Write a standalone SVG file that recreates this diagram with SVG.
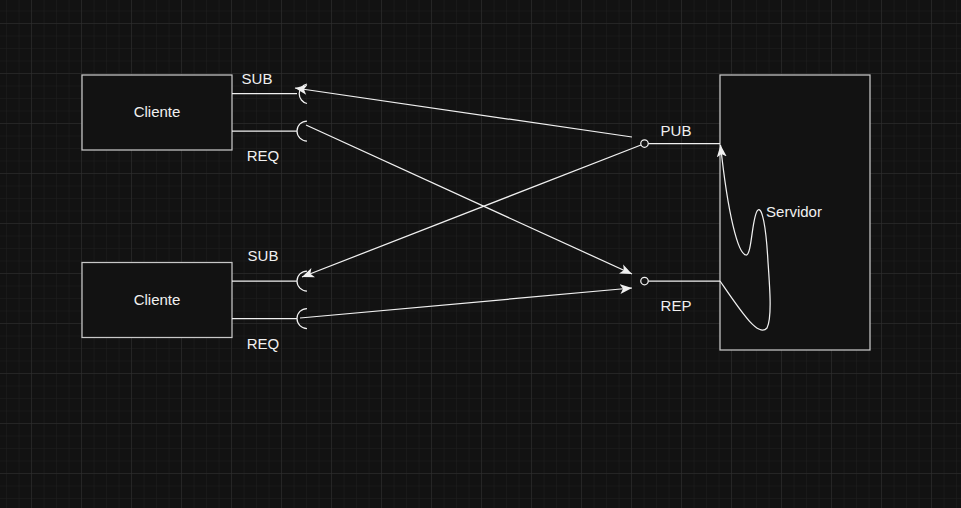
<svg xmlns="http://www.w3.org/2000/svg" width="961" height="508" viewBox="0 0 961 508">
<defs>
<pattern id="minor" width="12.5" height="12.5" patternUnits="userSpaceOnUse" x="7" y="-1">
<path d="M12.5 0V12.5M0 12.5H12.5" fill="none" stroke="#1f1f1f" stroke-width="1"/>
</pattern>
<pattern id="major" width="50" height="50" patternUnits="userSpaceOnUse" x="-18" y="-26">
<path d="M50 0V50M0 50H50" fill="none" stroke="#303030" stroke-width="1"/>
</pattern>
<marker id="arr" markerWidth="14" markerHeight="12" refX="12" refY="5" orient="auto" markerUnits="userSpaceOnUse" viewBox="0 0 14 10">
<path d="M0,0 L12,5 L0,10 L3,5 Z" fill="#f0f0f0"/>
</marker>
</defs>
<style>
.box{fill:#121212;stroke:#c8c8c8;stroke-width:1.25}
.ln{fill:none;stroke:#f0f0f0;stroke-width:1.25}
.t{font-family:"Liberation Sans",Arial,sans-serif;font-size:15px;fill:#f0f0f0}
</style>
<rect width="961" height="508" fill="#121212"/>
<rect width="961" height="508" fill="url(#minor)"/>
<rect width="961" height="508" fill="url(#major)"/>

<g id="cliente1">
<rect class="box" x="82" y="75" width="150" height="75"/>
<text class="t" x="157" y="117" text-anchor="middle">Cliente</text>
<path class="ln" d="M232,93.5H297M307,84A10,10 0 0 0 307,103.5"/>
<path class="ln" d="M232,131H297M307,121A10,10 0 0 0 307,141"/>
<text class="t" x="257" y="84" text-anchor="middle">SUB</text>
<text class="t" x="263" y="161" text-anchor="middle">REQ</text>
</g>
<g id="cliente2">
<rect class="box" x="82" y="262.5" width="150" height="75"/>
<text class="t" x="157" y="305" text-anchor="middle">Cliente</text>
<path class="ln" d="M232,281H297M307,271A10,10 0 0 0 307,291"/>
<path class="ln" d="M232,318.5H297M307,308.5A10,10 0 0 0 307,328.5"/>
<text class="t" x="263" y="261" text-anchor="middle">SUB</text>
<text class="t" x="263" y="349" text-anchor="middle">REQ</text>
</g>
<g id="servidor">
<rect class="box" x="720" y="75" width="150" height="275"/>
<text class="t" x="794" y="217" text-anchor="middle">Servidor</text>
<circle class="ln" cx="644.5" cy="143.5" r="3.75"/>
<path class="ln" d="M648.25,143.5H720"/>
<circle class="ln" cx="644.5" cy="281" r="3.75"/>
<path class="ln" d="M648.25,281H720"/>
<text class="t" x="676" y="136" text-anchor="middle">PUB</text>
<text class="t" x="676" y="311" text-anchor="middle">REP</text>
</g>
<g id="connectors">
<path class="ln" d="M632,137L295,88" marker-end="url(#arr)"/>
<path class="ln" d="M306,125L632,274" marker-end="url(#arr)"/>
<path class="ln" d="M641,145L302,277" marker-end="url(#arr)"/>
<path class="ln" d="M300,318L632,288" marker-end="url(#arr)"/>
<path class="ln" d="M720,281C740,310 758,338 767,328C772,318 770,290 768,262C766,225 762,207 758,210C752,214 752,256 746,255C738,254 728,215 720.5,145" marker-end="url(#arr)"/>
</g>
</svg>
